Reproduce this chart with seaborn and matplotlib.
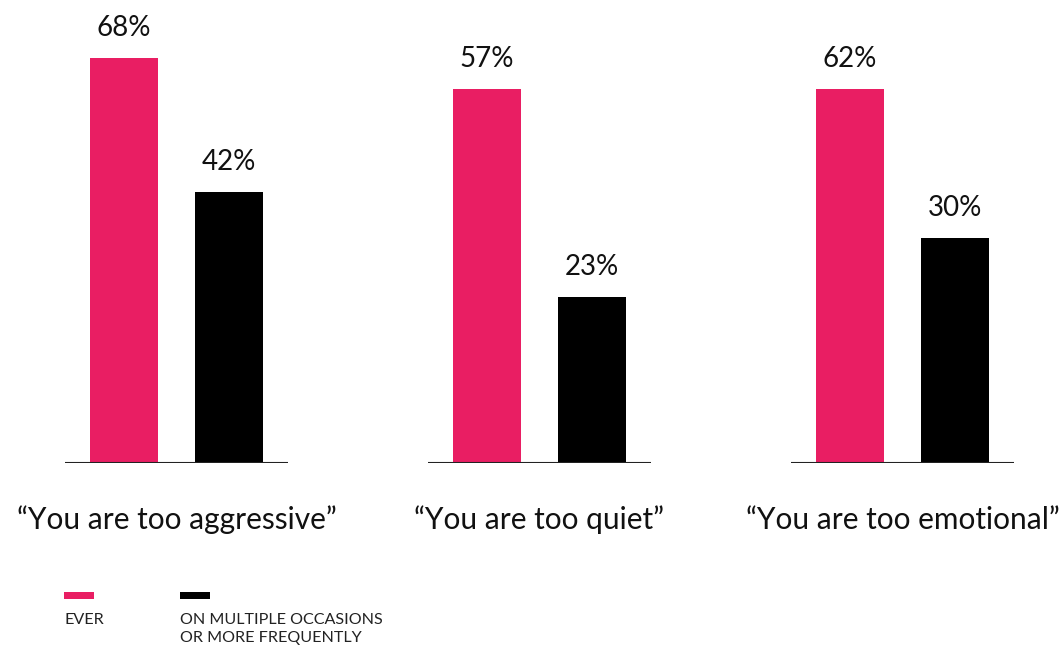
import matplotlib
matplotlib.use("Agg")
import matplotlib.pyplot as plt
from matplotlib.patches import Rectangle
import seaborn as sns
import pandas as pd

# ---- data ----
categories = ["\u201cYou are too aggressive\u201d", "\u201cYou are too quiet\u201d", "\u201cYou are too emotional\u201d"]
series = ["EVER", "ON MULTIPLE OCCASIONS\nOR MORE FREQUENTLY"]
ever_labels = [68, 57, 62]
multi_labels = [42, 23, 30]
# bar heights as drawn in the picture (same units as the labels, scaled from the 68% bar)
ever_heights = [68, 62.8, 62.8]
multi_heights = [45.5, 27.9, 37.8]
colors = ["#E91E63", "#000000"]

sns.set_theme(style="white")
plt.rcParams["font.family"] = ["Lato", "DejaVu Sans"]

W, H = 1063, 646
fig = plt.figure(figsize=(W / 100, H / 100), dpi=100)
base_px = 463
ax = fig.add_axes([0, (H - base_px) / H, 1, base_px / H])

rows = []
for i, c in enumerate(categories):
    rows.append({"category": c, "series": series[0], "value": ever_heights[i], "label": ever_labels[i]})
    rows.append({"category": c, "series": series[1], "value": multi_heights[i], "label": multi_labels[i]})
df = pd.DataFrame(rows)

sns.barplot(data=df, x="category", y="value", hue="series", hue_order=series,
            order=categories, palette=colors, width=0.578, gap=0.352,
            saturation=1, linewidth=0, legend=False, ax=ax)

px_per_unit = 405 / 68
ax.set_xlim(-176.5 / 363, (W - 176.5) / 363)
ax.set_ylim(0, base_px / px_per_unit)
ax.axis("off")

# baselines under each group
for i in range(len(categories)):
    ax.hlines(0, i - 0.3072, i + 0.3072, color="#222222", lw=1.5, zorder=3)

# value labels
labels_by_series = [ever_labels, multi_labels]
for container, labs in zip(ax.containers, labels_by_series):
    for bar, lab in zip(container, labs):
        ax.annotate(f"{lab}%", (bar.get_x() + bar.get_width() / 2, bar.get_height()),
                    xytext=(0, 16), textcoords="offset points", ha="center",
                    va="baseline", fontsize=20, color="#111111")

# category labels
for i, c in enumerate(categories):
    ax.annotate(c, (i, 0), xytext=(0, -66 * 0.72), textcoords="offset points",
                ha="center", va="baseline", fontsize=21.5, color="#111111",
                annotation_clip=False)

# legend drawn manually
sw_x = [64, 180]
for x0, col, name in zip(sw_x, colors, series):
    fig.add_artist(Rectangle((x0 / W, (H - 599) / H), 30 / W, 7 / H,
                             transform=fig.transFigure, color=col, lw=0))
    fig.text(x0 / W, (H - 613) / H, name, ha="left", va="top",
             fontsize=11.6, color="#222222", linespacing=1.4)

fig.savefig("out.png", dpi=100)
